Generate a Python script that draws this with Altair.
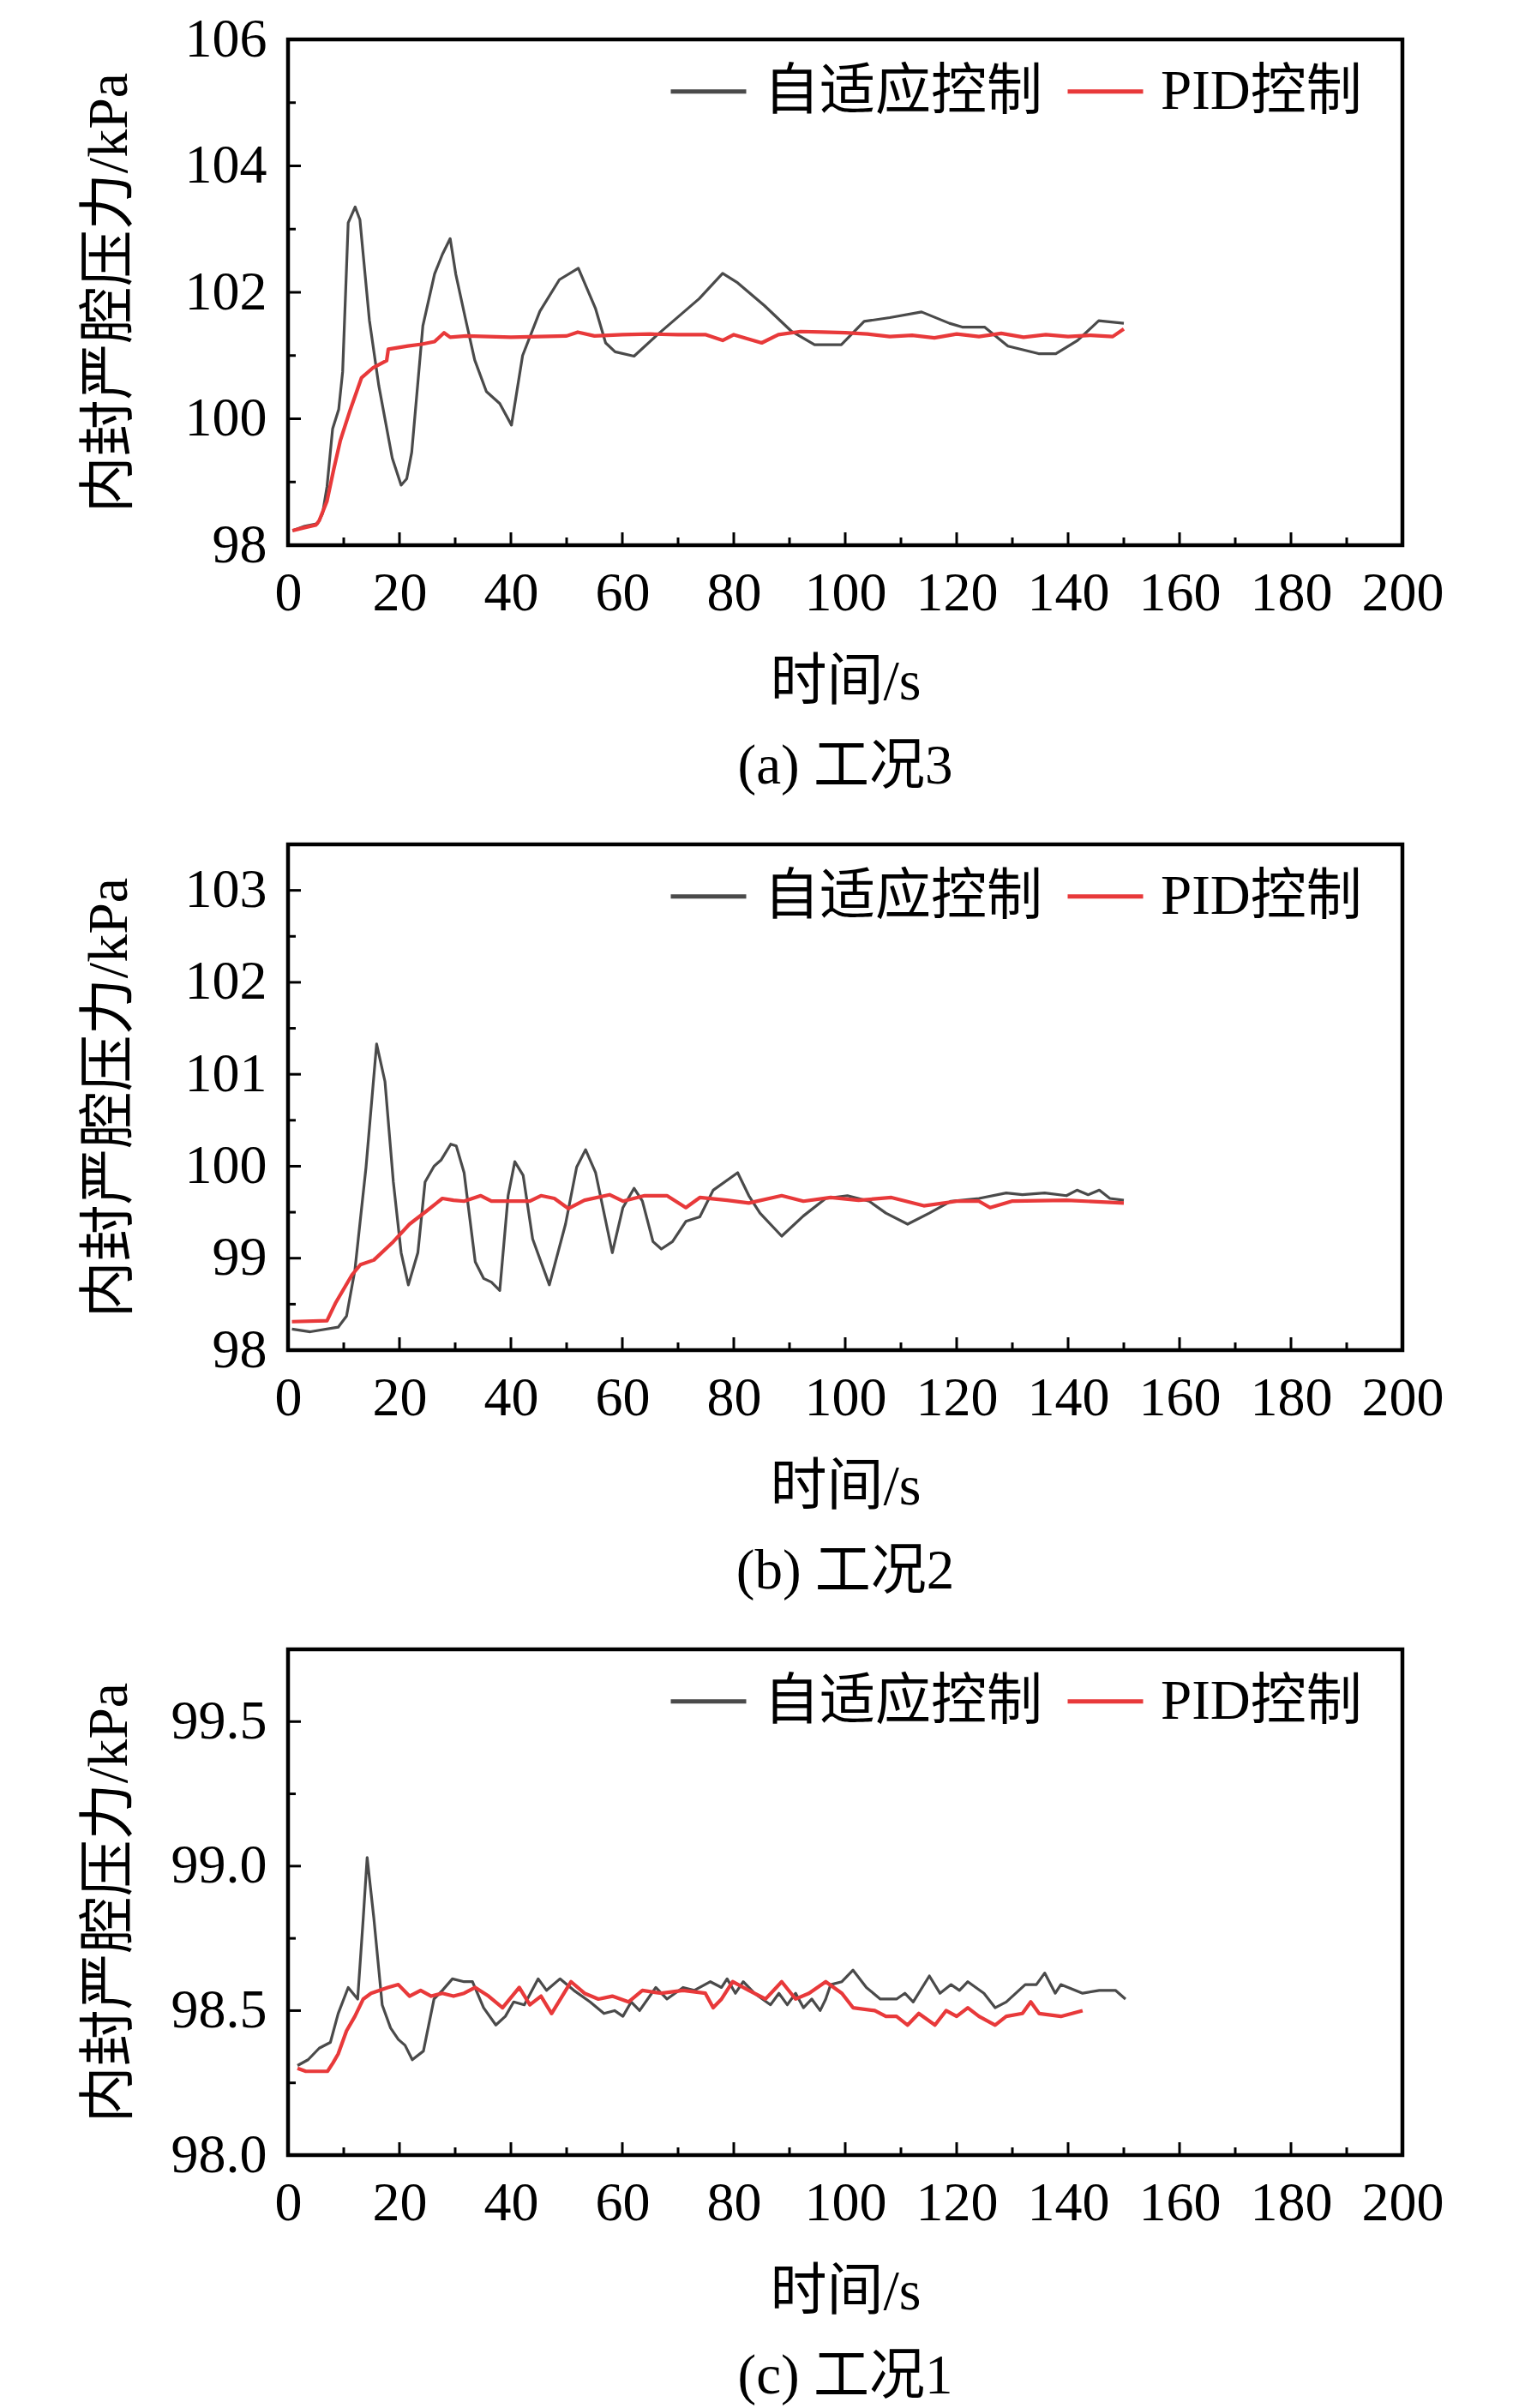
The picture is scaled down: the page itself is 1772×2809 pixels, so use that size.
import altair as alt
import pandas as pd

FONT = "Liberation Serif, Noto Sans CJK SC"
SERIES = ["自适应控制", "PID控制"]
COLORS = ["#4a4a4a", "#e8393a"]

X_MAJOR = [0, 20, 40, 60, 80, 100, 120, 140, 160, 180, 200]
X_TICK_MAJOR = [20, 40, 60, 80, 100, 120, 140, 160, 180]
X_TICK_MINOR = [10, 30, 50, 70, 90, 110, 130, 150, 170, 190]

# ---------------- panel (a) 工况3 ----------------
a_adapt_t = [0.8, 3, 5.3, 6.2, 7, 8, 9.1, 9.8, 10.8, 12.05, 12.9, 14.6, 16.3, 18.7, 20.3, 21.3,
             22.2, 24.2, 26.3, 27.7, 29.1, 30.1, 31.8, 33.5, 35.6, 38, 40.1, 42.1, 45.2, 48.7,
             52.1, 55.2, 57, 58.7, 62.1, 66.3, 73.8, 78, 80.7, 85.5, 90.4, 94.5, 99.3, 103.4,
             108, 113.7, 118.7, 121, 125, 129.2, 134.7, 137.8, 141.7, 145.5, 150]
a_adapt_v = [98.23, 98.3, 98.34, 98.5, 98.93, 99.84, 100.15, 100.74, 103.1, 103.35, 103.15,
             101.56, 100.52, 99.38, 98.95, 99.05, 99.47, 101.47, 102.29, 102.6, 102.85, 102.29,
             101.6, 100.93, 100.43, 100.24, 99.9, 101.0, 101.7, 102.2, 102.38, 101.74, 101.2,
             101.06, 100.99, 101.33, 101.9, 102.3, 102.15, 101.79, 101.38, 101.17, 101.17,
             101.54, 101.6, 101.69, 101.51, 101.45, 101.45, 101.15, 101.03, 101.03, 101.24,
             101.55, 101.51]
a_pid_t = [0.8, 3, 5, 5.6, 7, 8.2, 9.4, 11.2, 13.2, 15.3, 17.7, 18, 21.5, 24, 26.3, 28, 29.1,
           32, 36, 40, 45, 50, 52, 55, 60, 65, 70, 75, 78, 80, 85, 88, 92, 96, 100, 104, 108,
           112, 116, 120, 124, 128, 132, 136, 140, 144, 148, 150]
a_pid_v = [98.23, 98.28, 98.32, 98.39, 98.70, 99.2, 99.66, 100.15, 100.65, 100.81, 100.92,
           101.1, 101.15, 101.18, 101.22, 101.36, 101.29, 101.31, 101.3, 101.29, 101.3, 101.31,
           101.37, 101.31, 101.33, 101.34, 101.33, 101.33, 101.24, 101.33, 101.2, 101.33,
           101.38, 101.37, 101.36, 101.34, 101.3, 101.32, 101.28, 101.34, 101.3, 101.35,
           101.29, 101.33, 101.3, 101.32, 101.3, 101.42]

# ---------------- panel (b) 工况2 ----------------
b_adapt_t = [0.7, 4, 9, 10.5, 12, 14, 15.9, 17.4, 18.9, 20.3, 21.6, 23.3, 24.6, 26.2, 27.5,
             29.2, 30.2, 31.6, 33.6, 35.1, 36.5, 38, 39.5, 40.7, 42.2, 43.9, 46.9, 49.8, 51.8,
             53.4, 55.2, 58.2, 60.1, 62.1, 63.6, 65.5, 67, 69, 71.4, 73.9, 76.3, 80.7, 82.7,
             84.7, 88.6, 92.5, 96.5, 100.4, 104.3, 107.3, 111.2, 115.1, 119, 124, 128.9, 131.8,
             135.8, 139.7, 141.6, 143.6, 145.6, 147.5, 150]
b_adapt_v = [98.23, 98.2, 98.25, 98.37, 98.87, 99.99, 101.33, 100.92, 99.83, 99.06, 98.71,
             99.06, 99.83, 100.0, 100.07, 100.24, 100.22, 99.93, 98.96, 98.78, 98.74, 98.65,
             99.68, 100.05, 99.9, 99.21, 98.71, 99.37, 99.99, 100.18, 99.93, 99.06, 99.55,
             99.76, 99.62, 99.18, 99.1, 99.18, 99.40, 99.45, 99.74, 99.93, 99.68, 99.49, 99.24,
             99.46, 99.65, 99.68, 99.62, 99.49, 99.37, 99.49, 99.62, 99.65, 99.71, 99.69, 99.71,
             99.68, 99.74, 99.69, 99.74, 99.65, 99.63]
b_pid_t = [0.7, 7, 8.5, 11.5, 13, 15.4, 18.9, 21.8, 24.8, 27.7, 29.7, 31.6, 34.6, 36.5, 43.4,
           45.4, 47.8, 50.3, 53.2, 57.7, 60.1, 64, 68, 71.4, 73.9, 78.8, 82.7, 88.6, 92.5, 97.4,
           102.4, 108.3, 114.1, 120, 124, 126, 129.9, 139.7, 150]
b_pid_v = [98.31, 98.32, 98.51, 98.82, 98.93, 98.98, 99.18, 99.37, 99.51, 99.65, 99.63, 99.62,
           99.68, 99.62, 99.62, 99.68, 99.65, 99.54, 99.63, 99.69, 99.62, 99.68, 99.68, 99.55,
           99.66, 99.63, 99.6, 99.68, 99.62, 99.66, 99.63, 99.66, 99.57, 99.62, 99.62, 99.55,
           99.62, 99.63, 99.6]

# ---------------- panel (c) 工况1 ----------------
c_adapt_t = [1.7, 3.6, 5.6, 7.6, 9, 10.8, 12.5, 13.5, 14.2, 15.4, 16.9, 18.4, 19.8, 21, 22.3,
             24.3, 26.2, 27.7, 29.5, 31.6, 33.1, 35.1, 37.3, 39, 40.5, 42.4, 44.9, 46.4, 48.8,
             51.3, 54.2, 56.7, 58.6, 60.1, 61.6, 63.1, 66, 68, 70.9, 72.9, 75.8, 77.8, 78.8,
             80.3, 81.7, 83.7, 86.6, 88.1, 89.6, 91.1, 92.5, 94, 95.5, 96.5, 97.4, 99.4, 101.4,
             103.8, 106.3, 109.2, 110.7, 112.2, 115.1, 117, 119, 120.5, 122, 124.9, 126.9, 128.9,
             132.3, 134.3, 135.8, 137.7, 138.7, 142.6, 145.6, 148.5, 150.3]
c_adapt_v = [98.31, 98.33, 98.37, 98.39, 98.49, 98.58, 98.54, 98.82, 99.03, 98.82, 98.52,
             98.44, 98.40, 98.38, 98.33, 98.36, 98.54, 98.57, 98.61, 98.60, 98.60, 98.51, 98.45,
             98.48, 98.53, 98.52, 98.61, 98.57, 98.61, 98.57, 98.53, 98.49, 98.50, 98.48, 98.53,
             98.50, 98.58, 98.54, 98.58, 98.57, 98.60, 98.58, 98.61, 98.56, 98.60, 98.56, 98.52,
             98.56, 98.52, 98.56, 98.51, 98.54, 98.50, 98.54, 98.59, 98.60, 98.64, 98.58, 98.54,
             98.54, 98.56, 98.53, 98.62, 98.56, 98.59, 98.57, 98.60, 98.56, 98.51, 98.53, 98.59,
             98.59, 98.63, 98.56, 98.59, 98.56, 98.57, 98.57, 98.54]
c_pid_t = [1.7, 3.2, 7.1, 8.1, 9, 10.5, 12, 13.5, 14.9, 17.9, 19.8, 21.8, 23.8, 25.7, 27.7, 29.7,
           31.6, 33.6, 36, 38.5, 41.5, 43.4, 45.4, 47.3, 50.8, 53.2, 55.7, 58.2, 61.1, 63.6, 67,
           70.9, 74.9, 76.3, 77.8, 79.8, 82.7, 85.7, 88.6, 91.1, 93.5, 96.5, 99.4, 101.4, 105.3,
           107.3, 109.2, 111.2, 113.2, 116.1, 118.1, 120, 122, 124, 126.9, 128.9, 131.8, 133.3,
           134.8, 138.7, 142.6]
c_pid_v = [98.30, 98.29, 98.29, 98.32, 98.35, 98.43, 98.48, 98.54, 98.56, 98.58, 98.59, 98.55,
           98.57, 98.55, 98.56, 98.55, 98.56, 98.58, 98.55, 98.51, 98.58, 98.52, 98.55, 98.49,
           98.60, 98.56, 98.54, 98.55, 98.53, 98.57, 98.56, 98.57, 98.56, 98.51, 98.54, 98.60,
           98.57, 98.54, 98.60, 98.54, 98.56, 98.60, 98.56, 98.51, 98.50, 98.48, 98.48, 98.45,
           98.49, 98.45, 98.50, 98.48, 98.51, 98.48, 98.45, 98.48, 98.49, 98.53, 98.49, 98.48,
           98.50]

W, H = 1300, 590


def panel(adapt_t, adapt_v, pid_t, pid_v, ydom, ymajor, yminor, fmt, caption):
    xs = alt.Scale(domain=[0, 200], nice=False, zero=False)
    ys = alt.Scale(domain=ydom, nice=False, zero=False)
    cscale = alt.Scale(domain=SERIES, range=COLORS)
    legend = alt.Legend(orient="none", legendX=444, legendY=14, direction="horizontal",
                        title=None, symbolType="stroke", symbolSize=7744,
                        symbolStrokeWidth=5, labelFont=FONT, labelFontSize=65,
                        labelColor="black", labelOffset=18, columnPadding=18,
                        padding=0, labelLimit=800)
    xaxis = alt.Axis(values=X_MAJOR, format="d", title="时间/s", labelFlush=False,
                     labelOverlap=False)
    yaxis = alt.Axis(values=ymajor, format=fmt, title="内封严腔压力/kPa", labelFlush=False,
                     labelOverlap=False, titleX=-209, titleBaseline="middle")

    X = alt.X("t:Q", scale=xs, axis=xaxis)
    Y = alt.Y("v:Q", scale=ys, axis=yaxis)

    df_a = pd.DataFrame({"t": adapt_t, "v": adapt_v, "s": SERIES[0]})
    df_p = pd.DataFrame({"t": pid_t, "v": pid_v, "s": SERIES[1]})

    gray = alt.Chart(df_a).mark_line(strokeWidth=3.2, strokeJoin="round").encode(
        x=X, y=Y, color=alt.Color("s:N", scale=cscale, legend=legend))
    red = alt.Chart(df_p).mark_line(strokeWidth=4.2, strokeJoin="round").encode(
        x=X, y=Y, color=alt.Color("s:N", scale=cscale, legend=legend))

    xt_major = alt.Chart(pd.DataFrame({"t": X_TICK_MAJOR})).mark_rule(
        color="black", strokeWidth=3).encode(x=X, y=alt.value(H), y2=alt.value(H - 15))
    xt_minor = alt.Chart(pd.DataFrame({"t": X_TICK_MINOR})).mark_rule(
        color="black", strokeWidth=3).encode(x=X, y=alt.value(H), y2=alt.value(H - 9))
    ymaj_in = [v for v in ymajor if ydom[0] < v < ydom[1]]
    yt_major = alt.Chart(pd.DataFrame({"v": ymaj_in})).mark_rule(
        color="black", strokeWidth=3).encode(y=Y, x=alt.value(0), x2=alt.value(15))
    yt_minor = alt.Chart(pd.DataFrame({"v": yminor})).mark_rule(
        color="black", strokeWidth=3).encode(y=Y, x=alt.value(0), x2=alt.value(9))

    return alt.layer(gray, red, xt_major, xt_minor, yt_major, yt_minor).properties(
        width=W, height=H,
        title=alt.Title(caption, orient="bottom", anchor="middle", frame="group",
                        baseline="top", offset=35, font=FONT, fontSize=65,
                        fontWeight="normal", color="black"),
    )


pa = panel(a_adapt_t, a_adapt_v, a_pid_t, a_pid_v, [98, 106], [98, 100, 102, 104, 106],
           [99, 101, 103, 105], "d", "(a) 工况3")
pb = panel(b_adapt_t, b_adapt_v, b_pid_t, b_pid_v, [98, 103.5], [98, 99, 100, 101, 102, 103],
           [98.5, 99.5, 100.5, 101.5, 102.5], "d", "(b) 工况2")
pc = panel(c_adapt_t, c_adapt_v, c_pid_t, c_pid_v, [98, 99.75], [98.0, 98.5, 99.0, 99.5],
           [98.25, 98.75, 99.25], ".1f", "(c) 工况1")

chart = alt.vconcat(pa, pb, pc, spacing=349, bounds="flush").resolve_scale(
    x="independent", y="independent"
).resolve_legend(color="independent").properties(
    padding={"left": 83, "top": 3, "right": 10, "bottom": 0}
).configure(font=FONT).configure_view(
    stroke="black", strokeWidth=4.5
).configure_axis(
    labelFont=FONT, labelFontSize=64, labelColor="black", titleFont=FONT,
    titleFontSize=66, titleFontWeight="normal", titleColor="black",
    domain=False, grid=False, ticks=False
).configure_axisX(labelPadding=24, titlePadding=39).configure_axisY(labelPadding=25)

chart.save("out.html", embed_options={"renderer": "svg", "actions": False})
